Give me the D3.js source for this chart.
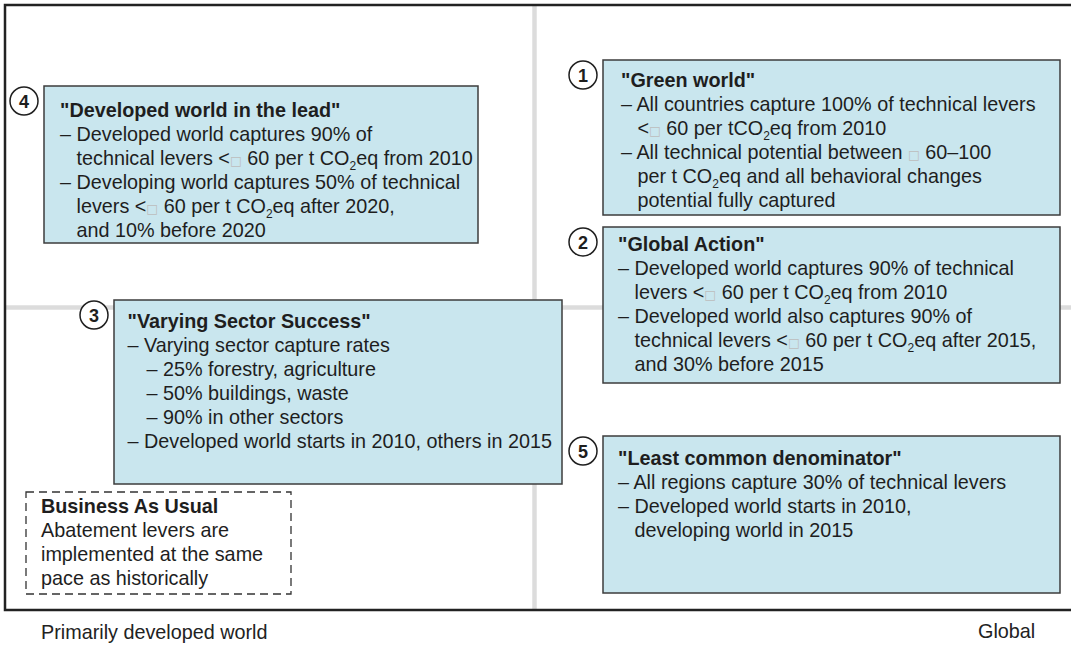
<!DOCTYPE html>
<html><head><meta charset="utf-8">
<script src="https://cdn.jsdelivr.net/npm/d3@7"></script>
<style>
body{margin:0;background:#fff}
svg{display:block;font-family:"Liberation Sans",Arial,Helvetica,sans-serif}
</style>
</head><body>
<svg id="chart" width="1071" height="646"></svg>
<script>
// ---------------- data ----------------
const scenarioIds = [4, 1, 2, 3, 5];
const scenarioTitles = [
  '"Developed world in the lead"',
  '"Green world"',
  '"Global Action"',
  '"Varying Sector Success"',
  '"Least common denominator"'
];
// b| bullet, c| continuation, s| sub-bullet ; {E} = missing euro glyph, _2 = subscript 2
const scenarioLines = [
  ["b|Developed world captures 90% of",
   "c|technical levers <{E} 60 per t CO_2eq from 2010",
   "b|Developing world captures 50% of technical",
   "c|levers <{E} 60 per t CO_2eq after 2020,",
   "c|and 10% before 2020"],
  ["b|All countries capture 100% of technical levers",
   "c|<{E} 60 per tCO_2eq from 2010",
   "b|All technical potential between {E} 60–100",
   "c|per t CO_2eq and all behavioral changes",
   "c|potential fully captured"],
  ["b|Developed world captures 90% of technical",
   "c|levers <{E} 60 per t CO_2eq from 2010",
   "b|Developed world also captures 90% of",
   "c|technical levers <{E} 60 per t CO_2eq after 2015,",
   "c|and 30% before 2015"],
  ["b|Varying sector capture rates",
   "s|25% forestry, agriculture",
   "s|50% buildings, waste",
   "s|90% in other sectors",
   "b|Developed world starts in 2010, others in 2015"],
  ["b|All regions capture 30% of technical levers",
   "b|Developed world starts in 2010,",
   "c|developing world in 2015"]
];
const bauTitle = "Business As Usual";
const bauLines = ["Abatement levers are", "implemented at the same", "pace as historically"];
const axisLabels = ["Primarily developed world", "Global"];

// ---------------- layout ----------------
const W = 1071, H = 646;
const frame = {left: 5, top: 5, bottom: 610};
const x = d3.scaleLinear().domain([0, 1]).range([frame.left, W]);
const y = d3.scaleLinear().domain([0, 1]).range([frame.top, frame.bottom]);
const gridX = 534.5, gridY = 307.5;
const boxLayout = {
  4: {x: 44,  y: 86,  w: 434, h: 157, tx: 60,    ty: 117},
  1: {x: 603, y: 60,  w: 457, h: 155, tx: 621,   ty: 87},
  2: {x: 603, y: 227, w: 457, h: 156, tx: 618,   ty: 251},
  3: {x: 114, y: 300, w: 448, h: 184, tx: 127.5, ty: 328},
  5: {x: 603, y: 436, w: 457, h: 157, tx: 618,   ty: 465}
};
const lineH = 24, fs = 19.8;
const textColor = "#1e1e1e";

const svg = d3.select("#chart");

// grid (light separators)
svg.append("line").attr("x1", gridX).attr("x2", gridX).attr("y1", y(0)).attr("y2", y(1))
  .attr("stroke", "#dcdcdc").attr("stroke-width", 4.5);
svg.append("line").attr("x1", x(0)).attr("x2", x(1)).attr("y1", gridY).attr("y2", gridY)
  .attr("stroke", "#dcdcdc").attr("stroke-width", 4.5);

// frame
svg.append("path")
  .attr("d", `M${x(1)},${y(0)} L${x(0)},${y(0)} L${x(0)},${y(1)} L${x(1)},${y(1)}`)
  .attr("fill", "none").attr("stroke", "#222").attr("stroke-width", 2.5);

function addRich(textSel, str) {
  const parts = str.split(/(\{E\}|_2)/);
  let sub = false;
  parts.forEach(p => {
    if (p === "") return;
    if (p === "{E}") {
      textSel.append("tspan").attr("font-family", "DejaVu Sans").attr("font-size", 12.5)
        .attr("fill", "#bdbdbd").text("□");
    } else if (p === "_2") {
      textSel.append("tspan").attr("font-size", 12).attr("dy", 5).text("2");
      sub = true;
    } else {
      const t = textSel.append("tspan").text(p);
      if (sub) { t.attr("dy", -5); sub = false; }
    }
  });
}

// measure "– " width
const meas = svg.append("text").attr("font-size", fs).attr("xml:space", "preserve").text("– ");
const dashW = meas.node().getComputedTextLength();
meas.remove();

scenarioIds.forEach((id, i) => {
  const L = boxLayout[id];
  const g = svg.append("g");
  g.append("rect").attr("x", L.x).attr("y", L.y).attr("width", L.w).attr("height", L.h)
    .attr("fill", "#c9e6ee").attr("stroke", "#3c3c3c").attr("stroke-width", 1.5);
  // number circle
  g.append("circle").attr("cx", L.x - 20).attr("cy", L.y + 15).attr("r", 14)
    .attr("fill", "#fff").attr("stroke", "#1e1e1e").attr("stroke-width", 1.5);
  g.append("text").attr("x", L.x - 20).attr("y", L.y + 21.5).attr("text-anchor", "middle")
    .attr("font-size", 18).attr("font-weight", "bold").attr("fill", textColor).text(id);
  // title
  g.append("text").attr("x", L.tx).attr("y", L.ty).attr("font-size", fs)
    .attr("font-weight", "bold").attr("fill", textColor).text(scenarioTitles[i]);
  scenarioLines[i].forEach((ln, j) => {
    const [kind, body] = ln.split("|");
    let xx = L.tx, s = body;
    if (kind === "b") s = "– " + body;
    else if (kind === "c") xx = L.tx + dashW;
    else if (kind === "s") { xx = L.tx + 19; s = "– " + body; }
    const t = g.append("text").attr("x", xx).attr("y", L.ty + (j + 1) * lineH)
      .attr("font-size", fs).attr("fill", textColor).attr("xml:space", "preserve");
    addRich(t, s);
  });
});

// Business as usual box
const bau = {x: 26, y: 492, w: 265, h: 102, tx: 41, ty: 513};
svg.append("rect").attr("x", bau.x).attr("y", bau.y).attr("width", bau.w).attr("height", bau.h)
  .attr("fill", "none").attr("stroke", "#333").attr("stroke-width", 1.3).attr("stroke-dasharray", "8,5");
svg.append("text").attr("x", bau.tx).attr("y", bau.ty).attr("font-size", fs).attr("font-weight", "bold")
  .attr("fill", textColor).text(bauTitle);
bauLines.forEach((l, j) => {
  svg.append("text").attr("x", bau.tx).attr("y", bau.ty + (j + 1) * lineH).attr("font-size", fs)
    .attr("fill", textColor).text(l);
});

// axis labels
svg.append("text").attr("x", 41).attr("y", 639).attr("font-size", fs).attr("fill", "#222").text(axisLabels[0]);
svg.append("text").attr("x", 978).attr("y", 638).attr("font-size", fs).attr("fill", "#222").text(axisLabels[1]);
</script>
</body></html>
